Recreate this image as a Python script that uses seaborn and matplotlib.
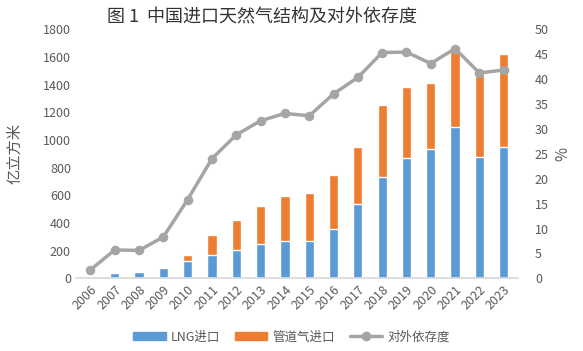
import matplotlib
matplotlib.use("Agg")
import matplotlib.pyplot as plt
import seaborn as sns
import pandas as pd
from matplotlib.patches import Patch
from matplotlib.lines import Line2D

# 数据
years = [str(y) for y in range(2006, 2024)]
lng = [0, 40, 45, 76, 125, 168, 204, 247, 272, 272, 356, 535, 735, 872, 935, 1096, 879, 947]
total = [0, 40, 45, 76, 168, 312, 421, 526, 597, 616, 744, 952, 1255, 1379, 1410, 1675, 1510, 1623]
dependence = [1.7, 5.7, 5.6, 8.3, 15.8, 24.0, 28.8, 31.6, 33.1, 32.6, 37.0, 40.3, 45.3, 45.4, 43.1, 46.1, 41.2, 41.8]

df = pd.DataFrame({"year": years, "lng": lng, "total": total, "dep": dependence})

sns.set_theme(style="white")
plt.rcParams['font.family'] = ['Noto Sans CJK SC', 'DejaVu Sans']

blue = "#5B9BD5"
orange = "#ED7D31"
gray = "#A5A5A5"
txt = "#595959"

fig = plt.figure(figsize=(5.83, 3.51), dpi=100)
ax = fig.add_axes([0.130, 0.207, 0.759, 0.710])

# 堆积柱：先画总量（橙色），再叠加LNG（蓝色）
sns.barplot(data=df, x="year", y="total", color=orange, width=0.38, saturation=1, ax=ax)
sns.barplot(data=df, x="year", y="lng", color=blue, width=0.38, saturation=1, ax=ax)

ax.set_ylim(0, 1800)
ax.set_yticks(range(0, 1801, 200))
ax.set_xlim(-0.6, len(years) - 0.4)
ax.set_xlabel("")
ax.set_ylabel("亿立方米", color=txt, fontsize=11, labelpad=14)
ax.tick_params(axis="y", colors=txt, labelsize=9, length=0)
ax.tick_params(axis="x", colors=txt, labelsize=9, length=0, rotation=45)
for lab in ax.get_xticklabels():
    lab.set_ha("right")
    lab.set_rotation_mode("anchor")
for s in ["top", "right", "left"]:
    ax.spines[s].set_visible(False)
ax.spines["bottom"].set_color("#D9D9D9")

# 对外依存度折线
ax2 = ax.twinx()
sns.pointplot(data=df, x="year", y="dep", color=gray, markers="o", markersize=5,
              linewidth=2.5, ax=ax2)
ax2.set_ylim(0, 50)
ax2.set_yticks(range(0, 51, 5))
ax2.set_xlim(-0.6, len(years) - 0.4)
ax2.set_ylabel("%", color=txt, fontsize=11, labelpad=4)
ax2.tick_params(axis="y", colors=txt, labelsize=9, length=0, pad=12)
for s in ["top", "right", "left", "bottom"]:
    ax2.spines[s].set_visible(False)

fig.suptitle("图 1  中国进口天然气结构及对外依存度", x=0.45, y=0.975, fontsize=13, color="#333333")

handles = [
    Patch(color=blue, label="LNG进口"),
    Patch(color=orange, label="管道气进口"),
    Line2D([0], [0], color=gray, lw=2.5, marker="o", markersize=6, label="对外依存度"),
]
fig.legend(handles=handles, loc="center", bbox_to_anchor=(0.5, 0.04), ncol=3,
           frameon=False, fontsize=9, labelcolor=txt, handlelength=2.6, columnspacing=1.2,
           handleheight=0.6, handletextpad=0.4)

fig.savefig("out.png", dpi=100)
